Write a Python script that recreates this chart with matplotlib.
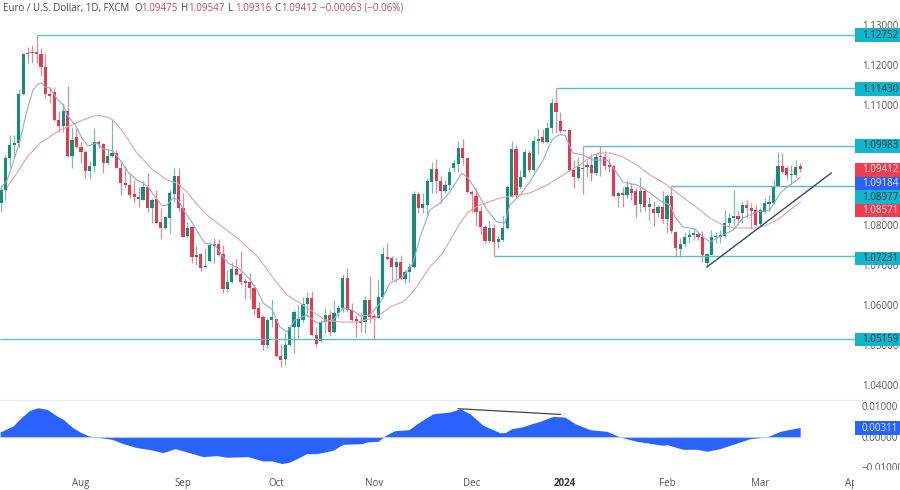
import matplotlib
matplotlib.use('Agg')
import matplotlib.pyplot as plt
from matplotlib.lines import Line2D
from matplotlib.patches import Rectangle
from matplotlib.transforms import Bbox

# daily candles, one row per 10 sessions
opens = [
    1.08550, 1.08875, 1.09675, 1.10000, 1.10050, 1.11275, 1.12300, 1.12325, 1.12325, 1.12275,
    1.11950, 1.11275, 1.11325, 1.10625, 1.10475, 1.10850, 1.09725, 1.10200, 1.09950, 1.09825,
    1.09350, 1.09475, 1.10075, 1.10025, 1.09550, 1.09725, 1.09800, 1.09425, 1.09050, 1.09000,
    1.08775, 1.08700, 1.08625, 1.08950, 1.08425, 1.08650, 1.08075, 1.07925, 1.08175, 1.08775,
    1.09225, 1.08425, 1.07725, 1.07950, 1.07200, 1.07275, 1.06950, 1.07100, 1.07475, 1.07525,
    1.07275, 1.06400, 1.06575, 1.06900, 1.06775, 1.06600, 1.06575, 1.06425, 1.05925, 1.05700,
    1.05000, 1.05625, 1.05650, 1.04725, 1.04650, 1.05000, 1.05450, 1.05450, 1.05625, 1.06025,
    1.06175, 1.05250, 1.05100, 1.05575, 1.05750, 1.05325, 1.05800, 1.05925, 1.06675, 1.05875,
    1.05650, 1.05600, 1.05575, 1.06125, 1.05725, 1.05675, 1.06200, 1.07200, 1.07175, 1.06950,
    1.07075, 1.06650, 1.06825, 1.06950, 1.08775, 1.08425, 1.08500, 1.09075, 1.09400, 1.09100,
    1.08850, 1.09000, 1.09425, 1.09525, 1.09925, 1.09675, 1.08825, 1.08725, 1.08350, 1.07950,
    1.07600, 1.07925, 1.07575, 1.07625, 1.07925, 1.08700, 1.09900, 1.08950, 1.09200, 1.09800,
    1.09375, 1.10100, 1.10200, 1.10075, 1.10425, 1.11050, 1.10600, 1.10375, 1.10375, 1.09375,
    1.09175, 1.09425, 1.09450, 1.09500, 1.09300, 1.09725, 1.09700, 1.09500, 1.09475, 1.08725,
    1.08800, 1.08750, 1.08900, 1.08850, 1.08525, 1.08850, 1.08450, 1.08400, 1.08300, 1.08450,
    1.08150, 1.08725, 1.07825, 1.07400, 1.07525, 1.07700, 1.07750, 1.07775, 1.07700, 1.07050,
    1.07250, 1.07700, 1.07700, 1.07725, 1.08050, 1.08175, 1.08225, 1.08300, 1.08500, 1.08425,
    1.08375, 1.08025, 1.08325, 1.08525, 1.08550, 1.08975, 1.09475, 1.09425, 1.09250, 1.09250, 1.09475,
]
highs = [
    1.09000, 1.09750, 1.10250, 1.10250, 1.11400, 1.12300, 1.12450, 1.12500, 1.12752, 1.12425,
    1.12300, 1.11450, 1.11450, 1.10850, 1.11050, 1.11475, 1.10450, 1.10425, 1.10075, 1.09875,
    1.09600, 1.10425, 1.10125, 1.10050, 1.09900, 1.10650, 1.09875, 1.09625, 1.09475, 1.09300,
    1.09125, 1.08950, 1.09100, 1.09300, 1.08675, 1.08875, 1.08425, 1.08200, 1.08875, 1.09425,
    1.09425, 1.08800, 1.08075, 1.07975, 1.07475, 1.07300, 1.07425, 1.07575, 1.07675, 1.07650,
    1.07500, 1.06875, 1.07075, 1.07150, 1.07350, 1.06675, 1.06800, 1.06525, 1.06075, 1.05750,
    1.05675, 1.06150, 1.05675, 1.05025, 1.05300, 1.05500, 1.05875, 1.06000, 1.06200, 1.06325,
    1.06350, 1.05450, 1.05625, 1.05925, 1.05875, 1.06125, 1.06000, 1.06775, 1.06925, 1.06050,
    1.05750, 1.05825, 1.06225, 1.06725, 1.05800, 1.06650, 1.07450, 1.07550, 1.07225, 1.07175,
    1.07250, 1.06875, 1.07050, 1.08850, 1.08825, 1.08800, 1.09175, 1.09575, 1.09650, 1.09225,
    1.09125, 1.09450, 1.09625, 1.10100, 1.10150, 1.09700, 1.08875, 1.08925, 1.08475, 1.08000,
    1.08125, 1.08025, 1.07725, 1.08250, 1.09000, 1.10100, 1.10000, 1.09375, 1.09900, 1.09875,
    1.10225, 1.10400, 1.10400, 1.10575, 1.11175, 1.11430, 1.10825, 1.10375, 1.10400, 1.09625,
    1.09700, 1.09983, 1.09625, 1.09775, 1.09800, 1.09975, 1.09850, 1.09675, 1.09500, 1.08850,
    1.08950, 1.09125, 1.09050, 1.08925, 1.09200, 1.08925, 1.08700, 1.08600, 1.08500, 1.08850,
    1.08775, 1.08977, 1.07850, 1.07675, 1.07825, 1.07875, 1.07900, 1.07850, 1.07850, 1.07300,
    1.07875, 1.07825, 1.07875, 1.08375, 1.08300, 1.08875, 1.08350, 1.08600, 1.08625, 1.08550,
    1.08500, 1.08425, 1.08675, 1.08750, 1.09150, 1.09825, 1.09800, 1.09475, 1.09500, 1.09625, 1.09547,
]
lows = [
    1.08325, 1.08625, 1.09450, 1.09700, 1.09950, 1.11250, 1.12050, 1.12050, 1.12050, 1.11725,
    1.11175, 1.11050, 1.10600, 1.10325, 1.10325, 1.09700, 1.09425, 1.09925, 1.09550, 1.09175,
    1.09150, 1.09325, 1.09925, 1.09300, 1.09500, 1.09700, 1.09425, 1.08750, 1.08950, 1.08675,
    1.08550, 1.08450, 1.08625, 1.08325, 1.08050, 1.08050, 1.07650, 1.07900, 1.07800, 1.08575,
    1.08350, 1.07700, 1.07700, 1.07050, 1.07000, 1.06850, 1.06950, 1.07075, 1.07050, 1.07225,
    1.06300, 1.06325, 1.06550, 1.06750, 1.06500, 1.06150, 1.06150, 1.05750, 1.05675, 1.04875,
    1.04925, 1.05450, 1.04700, 1.04450, 1.04500, 1.04975, 1.04800, 1.05175, 1.05575, 1.05700,
    1.05225, 1.04950, 1.05075, 1.05300, 1.05225, 1.05300, 1.05675, 1.05825, 1.05825, 1.05600,
    1.05200, 1.05325, 1.05300, 1.05550, 1.05150, 1.05675, 1.06175, 1.07125, 1.06625, 1.06575,
    1.06625, 1.06550, 1.06575, 1.06925, 1.08300, 1.08300, 1.08250, 1.08800, 1.08800, 1.08550,
    1.08800, 1.08875, 1.09325, 1.09325, 1.09500, 1.08800, 1.08325, 1.07975, 1.07775, 1.07550,
    1.07550, 1.07231, 1.07425, 1.07600, 1.07900, 1.08700, 1.08675, 1.08900, 1.09175, 1.09325,
    1.09325, 1.09775, 1.10050, 1.10050, 1.10300, 1.10300, 1.10300, 1.10350, 1.09350, 1.08925,
    1.09125, 1.08775, 1.09200, 1.09100, 1.09250, 1.09225, 1.09375, 1.09325, 1.08700, 1.08450,
    1.08450, 1.08675, 1.08625, 1.08200, 1.08325, 1.08350, 1.08125, 1.07975, 1.08200, 1.08050,
    1.07800, 1.07800, 1.07200, 1.07200, 1.07450, 1.07550, 1.07625, 1.07625, 1.07075, 1.06950,
    1.07250, 1.07550, 1.07550, 1.07675, 1.07925, 1.08000, 1.08000, 1.08050, 1.08175, 1.07900,
    1.07975, 1.07950, 1.08300, 1.08350, 1.08525, 1.08975, 1.09300, 1.09125, 1.09025, 1.09200, 1.09316,
]
closes = [
    1.08875, 1.09675, 1.10000, 1.10050, 1.11275, 1.12275, 1.12275, 1.12300, 1.12275, 1.11950,
    1.11275, 1.11225, 1.10625, 1.10475, 1.10850, 1.09725, 1.10125, 1.09950, 1.09825, 1.09350,
    1.09475, 1.10075, 1.10025, 1.09550, 1.09725, 1.09800, 1.09425, 1.09050, 1.09000, 1.08750,
    1.08700, 1.08650, 1.08950, 1.08425, 1.08625, 1.08050, 1.07925, 1.08200, 1.08800, 1.09225,
    1.08425, 1.07700, 1.07925, 1.07200, 1.07250, 1.06925, 1.06975, 1.07500, 1.07525, 1.07250,
    1.06400, 1.06575, 1.06900, 1.06750, 1.06575, 1.06550, 1.06425, 1.05900, 1.05675, 1.05000,
    1.05625, 1.05700, 1.04725, 1.04625, 1.05000, 1.05450, 1.05825, 1.05650, 1.06025, 1.06175,
    1.05250, 1.05025, 1.05575, 1.05750, 1.05325, 1.05800, 1.05925, 1.06675, 1.05875, 1.05625,
    1.05600, 1.05550, 1.06125, 1.05700, 1.05675, 1.06200, 1.07275, 1.07150, 1.06950, 1.07075,
    1.06650, 1.06825, 1.06950, 1.08775, 1.08425, 1.08525, 1.09100, 1.09400, 1.09100, 1.08850,
    1.09000, 1.09325, 1.09550, 1.09925, 1.09675, 1.08825, 1.08775, 1.08325, 1.07950, 1.07600,
    1.07925, 1.07575, 1.07650, 1.07925, 1.08950, 1.09900, 1.08750, 1.09200, 1.09825, 1.09375,
    1.10100, 1.10150, 1.10075, 1.10425, 1.11050, 1.10825, 1.10350, 1.10350, 1.09375, 1.09200,
    1.09450, 1.09400, 1.09500, 1.09300, 1.09700, 1.09700, 1.09475, 1.09450, 1.08725, 1.08800,
    1.08750, 1.08950, 1.08800, 1.08500, 1.08850, 1.08450, 1.08525, 1.08300, 1.08450, 1.08150,
    1.08725, 1.07850, 1.07425, 1.07525, 1.07700, 1.07750, 1.07800, 1.07700, 1.07250, 1.07275,
    1.07700, 1.07725, 1.07750, 1.08050, 1.08175, 1.08225, 1.08150, 1.08500, 1.08425, 1.08350,
    1.08000, 1.08375, 1.08550, 1.08575, 1.08975, 1.09475, 1.09325, 1.09250, 1.09275, 1.09450, 1.09412,
]

# moving averages, read where they bend (session number, fractions between candles)
fast_ma_days = [
    0.0, 1.4, 2.7, 4.3, 5.9, 7.2, 8.3, 9.2, 9.9, 11.0,
    12.8, 14.0, 14.9, 16.7, 18.5, 19.6, 21.6, 23.0, 25.2, 26.8,
    28.6, 30.6, 32.0, 33.1, 34.7, 36.3, 37.4, 38.7, 39.9, 41.4,
    43.0, 44.4, 45.9, 48.2, 50.0, 51.1, 53.4, 55.6, 57.7, 59.0,
    61.0, 62.8, 64.4, 66.2, 68.9, 71.2, 72.5, 74.8, 77.0, 79.1,
    80.9, 83.1, 85.4, 87.6, 90.5, 92.8, 94.4, 96.6, 98.9, 101.1,
    103.8, 105.2, 107.2, 109.5, 111.7, 113.5, 114.6, 116.9, 119.1, 122.1,
    124.1, 125.5, 127.0, 128.8, 131.1, 133.3, 136.5, 137.8, 140.1, 143.2,
    146.2, 148.9, 150.7, 151.8, 153.6, 156.3, 158.1, 159.7, 162.6, 164.9,
    167.1, 170.3, 173.2, 175.5, 177.7, 180.0,
]
fast_ma = [
    1.08925, 1.09125, 1.09550, 1.10125, 1.10875, 1.11375, 1.11525, 1.11550, 1.11450, 1.11425,
    1.11125, 1.11000, 1.10750, 1.10500, 1.10125, 1.09975, 1.10050, 1.09900, 1.09850, 1.09625,
    1.09325, 1.09125, 1.09050, 1.08950, 1.08700, 1.08475, 1.08500, 1.08675, 1.08625, 1.08325,
    1.08075, 1.07800, 1.07550, 1.07500, 1.07200, 1.07050, 1.06925, 1.06700, 1.06375, 1.06050,
    1.05900, 1.05450, 1.05325, 1.05625, 1.05750, 1.05550, 1.05575, 1.05625, 1.05925, 1.05875,
    1.05725, 1.05750, 1.06050, 1.06550, 1.06700, 1.07050, 1.07700, 1.08375, 1.08550, 1.08825,
    1.09300, 1.09175, 1.08825, 1.08375, 1.08075, 1.08050, 1.08500, 1.08750, 1.09075, 1.09625,
    1.10125, 1.10250, 1.10250, 1.09800, 1.09750, 1.09625, 1.09625, 1.09450, 1.09075, 1.09000,
    1.08800, 1.08575, 1.08500, 1.08200, 1.07950, 1.07900, 1.07700, 1.07575, 1.07750, 1.07875,
    1.08175, 1.08325, 1.08375, 1.08800, 1.09000, 1.09184,
]
slow_ma_days = [
    1.4, 3.6, 5.9, 8.8, 13.3, 18.5, 21.6, 23.9, 25.2, 27.5,
    30.6, 34.2, 37.4, 39.6, 41.9, 43.7, 46.4, 49.3, 53.2, 57.9,
    61.3, 64.4, 67.3, 70.7, 73.0, 76.4, 80.2, 84.7, 87.6, 90.5,
    92.8, 96.6, 99.5, 103.4, 105.2, 107.9, 112.4, 116.9, 119.1, 123.0,
    126.6, 130.4, 133.3, 134.9, 137.2, 140.1, 143.2, 146.2, 150.0, 152.9,
    156.8, 159.7, 162.6, 164.9, 168.0, 170.5, 172.5, 175.5, 177.7, 180.0,
]
slow_ma = [
    1.08950, 1.09300, 1.09700, 1.10050, 1.10375, 1.10625, 1.10750, 1.10700, 1.10625, 1.10325,
    1.09800, 1.09375, 1.09125, 1.09050, 1.08825, 1.08575, 1.08250, 1.08000, 1.07675, 1.07200,
    1.06675, 1.06250, 1.06050, 1.05800, 1.05625, 1.05575, 1.05575, 1.05700, 1.05950, 1.06075,
    1.06325, 1.06950, 1.07300, 1.08050, 1.08325, 1.08500, 1.08675, 1.08750, 1.08800, 1.09000,
    1.09250, 1.09500, 1.09750, 1.09800, 1.09800, 1.09700, 1.09500, 1.09250, 1.09000, 1.08750,
    1.08425, 1.08175, 1.08000, 1.07925, 1.07925, 1.07925, 1.08000, 1.08175, 1.08375, 1.08571,
]

# lower panel oscillator
osc_days = [
    -0.2, 2.7, 4.7, 6.5, 8.3, 10.4, 12.6, 14.0, 16.0, 17.8,
    19.8, 22.3, 25.0, 27.5, 30.6, 33.6, 36.5, 39.2, 41.9, 45.5,
    48.6, 50.9, 55.6, 59.0, 61.0, 63.3, 65.1, 68.9, 71.2, 74.8,
    77.0, 81.3, 82.4, 84.9, 86.9, 88.7, 91.9, 93.7, 97.3, 101.1,
    103.4, 105.6, 108.6, 112.4, 113.5, 115.1, 117.3, 119.1, 121.4, 124.3,
    127.0, 129.3, 132.7, 136.5, 139.4, 143.2, 149.1, 150.0, 153.6, 156.8,
    159.0, 161.9, 165.8, 168.7, 172.5, 175.5, 177.7, 180.0,
]
osc_values = [
    0.00164, 0.00360, 0.00654, 0.00872, 0.00959, 0.00905, 0.00687, 0.00578, 0.00327, 0.00164,
    0.00033, -0.00022, -0.00076, -0.00218, -0.00349, -0.00414, -0.00512, -0.00382, -0.00491, -0.00643,
    -0.00610, -0.00665, -0.00643, -0.00785, -0.00785, -0.00872, -0.00818, -0.00545, -0.00545, -0.00436,
    -0.00240, -0.00218, -0.00164, -0.00142, 0.00076, 0.00207, 0.00240, 0.00436, 0.00763, 0.00818,
    0.00927, 0.00763, 0.00382, 0.00142, 0.00142, 0.00273, 0.00327, 0.00414, 0.00512, 0.00676,
    0.00654, 0.00436, 0.00240, 0.00185, 0.00000, -0.00142, -0.00273, -0.00251, -0.00403, -0.00403,
    -0.00469, -0.00382, -0.00196, -0.00055, 0.00000, 0.00185, 0.00251, 0.00311,
]

# horizontal levels: price and the session each one starts from
level_prices = [1.12752, 1.11430, 1.09983, 1.08977, 1.07231, 1.05159]
level_starts = [8, 125, 131, 151, 111, -0.225]

trend_days = [159, 187]
trend_prices = [1.06950, 1.09300]
div_days = [103, 126]
div_values = [0.00927, 0.00740]

# 1.10 and 1.09 sit behind the level tags in the reference, so they are left out
price_ticks = [1.13, 1.12, 1.11, 1.08, 1.07, 1.06, 1.05, 1.04]
osc_ticks = [0.01, 0.0, -0.01]
month_days = [18, 41, 62, 84, 106, 127, 150, 171, 192]
month_names = ['Aug', 'Sep', 'Oct', 'Nov', 'Dec', '2024', 'Feb', 'Mar', 'Apr']

GREEN = '#178c78'
RED = '#e03c50'
GREEN_WICK = '#86b8ac'
RED_WICK = '#d98f99'
TEAL = '#12b5cb'
LEVEL = '#62bcc6'
BLUE = '#2962ff'
TAG_RED = '#ef3d52'
TEXT = '#555555'
FONT = 'Open Sans'
SIZE = 7.0
W, H = 900.0, 490.0


def px_axes(fig, left, top, right, bottom):
    return fig.add_axes([left / W, 1 - bottom / H, (right - left) / W,
                         (bottom - top) / H])


def add_tag(fig, top, bottom, label, face, color, left=855):
    fig.add_artist(Rectangle((left / W, 1 - bottom / H), (W - left) / W,
                             (bottom - top) / H, transform=fig.transFigure,
                             facecolor=face, edgecolor='none'))
    fig.text(862 / W, 1 - (top + bottom) / 2 / H, label, color=color,
             fontsize=SIZE, family=FONT, va='center', ha='left')


def draw_candles(ax):
    days = range(len(opens))
    for d in days:
        up = closes[d] >= opens[d]
        ax.vlines(d, lows[d], highs[d], color=GREEN_WICK if up else RED_WICK,
                  linewidth=0.9, zorder=1)
    colors = [GREEN if closes[d] >= opens[d] else RED for d in days]
    bottoms = [min(opens[d], closes[d]) for d in days]
    heights = [max(abs(closes[d] - opens[d]), 0.00025) for d in days]
    ax.bar(days, heights, bottom=bottoms, width=0.72, color=colors,
           linewidth=0, zorder=2)


def draw_price(ax):
    draw_candles(ax)
    ax.plot(fast_ma_days, fast_ma, color='#93abd8', linewidth=0.8, zorder=3)
    ax.plot(slow_ma_days, slow_ma, color='#dfa4a6', linewidth=0.8, zorder=3)
    for price, start in zip(level_prices, level_starts):
        ax.plot([start, 192.4], [price, price], color=LEVEL, linewidth=1.0,
                zorder=3, solid_capstyle='butt')
    ax.plot(trend_days, trend_prices, color='#33486f', linewidth=1.0, zorder=4)
    # left edge is pixel 0, one session is 4.44 pixels
    ax.set_xlim(-0.225, 192.35)
    ax.set_ylim(1.03625, 1.13625)
    ax.set_xticks([])
    ax.yaxis.tick_right()
    ax.set_yticks(price_ticks)
    ax.set_yticklabels(['{:.5f}'.format(p) for p in price_ticks])
    ax.tick_params(axis='y', length=0, pad=5, labelsize=SIZE, labelcolor=TEXT)
    for spine in ax.spines.values():
        spine.set_visible(False)


def draw_osc(ax):
    ax.fill_between(osc_days, osc_values, 0, color=BLUE, linewidth=0)
    ax.plot([-0.2, 180], [0, 0], color='#a9cdf5', linewidth=0.8)
    ax.plot(div_days, div_values, color='#444444', linewidth=0.9)
    ax.set_xlim(-0.225, 192.35)
    ax.set_ylim(-0.01082, 0.01213)
    ax.yaxis.tick_right()
    ax.set_yticks(osc_ticks)
    ax.set_yticklabels(['0.01000', '0.00000', '\u22120.01000'])
    ax.set_xticks(month_days)
    ax.set_xticklabels(month_names)
    ax.tick_params(axis='y', length=0, pad=5, labelsize=SIZE, labelcolor=TEXT)
    ax.tick_params(axis='x', length=0, pad=6, labelsize=SIZE, labelcolor=TEXT)
    for spine in ax.spines.values():
        spine.set_visible(False)
    for label in ax.get_xticklabels():
        if label.get_text() == '2024':
            label.set_fontweight('bold')
            label.set_color('#333333')
    # the date strip and the price strip cut these two labels off
    ax.get_yticklabels()[2].set_clip_box(Bbox([[855, H - 470], [900, H - 400]]))
    ax.get_yticklabels()[2].set_clip_on(True)
    ax.get_xticklabels()[8].set_clip_box(Bbox([[0, 0], [854, 30]]))
    ax.get_xticklabels()[8].set_clip_on(True)


def draw_header(fig):
    y = 1 - 8.5 / H
    parts = [(3, 'Euro / U.S. Dollar, 1D, FXCM', '#484848'),
             (134, 'O', '#484848'), (141, '1.09475', '#bf4d5c'),
             (181, 'H', '#484848'), (188, '1.09547', '#bf4d5c'),
             (228, 'L', '#484848'), (235, '1.09316', '#bf4d5c'),
             (274, 'C', '#484848'), (281, '1.09412', '#bf4d5c'),
             (320, '\u22120.00063 (\u22120.06%)', '#bf4d5c')]
    for x, text, color in parts:
        fig.text(x / W, y, text, color=color, fontsize=SIZE, family=FONT,
                 va='center', ha='left')


def main():
    plt.rcParams['font.family'] = FONT
    fig = plt.figure(figsize=(9, 4.9), dpi=100, facecolor='white')
    ax_price = px_axes(fig, 0, 0, 855, 400)
    ax_osc = px_axes(fig, 0, 400, 855, 470)
    draw_price(ax_price)
    draw_osc(ax_osc)
    fig.add_artist(Line2D([0, 1], [1 - 400 / H, 1 - 400 / H], color='#ececec',
                          linewidth=1.0))
    draw_header(fig)

    dark = '#123c46'
    add_tag(fig, 28, 42, '1.12752', TEAL, dark)
    add_tag(fig, 82, 96, '1.11430', TEAL, dark)
    add_tag(fig, 139, 153, '1.09983', TEAL, dark)
    add_tag(fig, 163, 177, '1.09412', TAG_RED, '#fbe3e6')
    add_tag(fig, 177, 190, '1.09184', BLUE, '#dfe8ff')
    add_tag(fig, 190, 204, '1.08977', TEAL, dark)
    add_tag(fig, 204, 217, '1.08571', TAG_RED, '#fbe3e6')
    add_tag(fig, 252, 265, '1.07231', TEAL, dark)
    add_tag(fig, 333, 346, '1.05159', TEAL, dark)
    add_tag(fig, 421, 435, '0.00311', BLUE, '#dfe8ff')

    fig.savefig('out.png', dpi=100)


if __name__ == '__main__':
    main()
